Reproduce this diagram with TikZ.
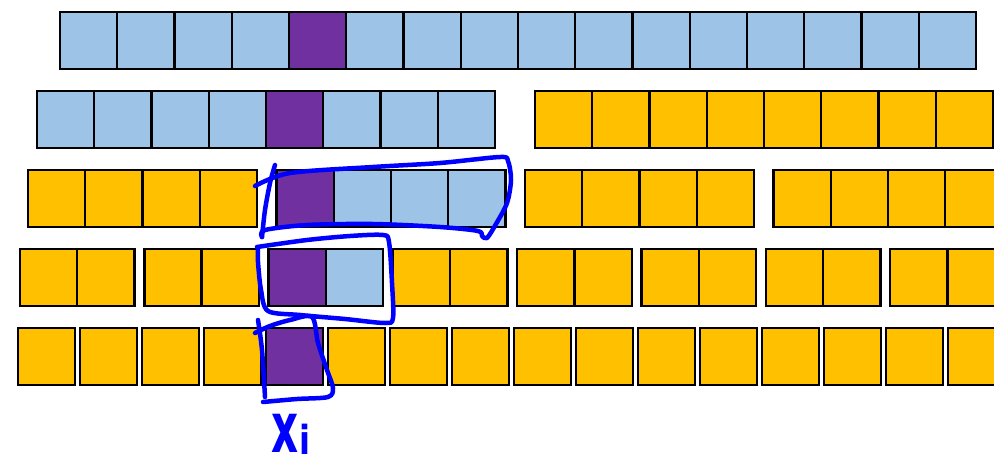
\documentclass[tikz,border=0pt]{standalone}
\usepackage{fontspec}
\usepackage{graphicx}
\newfontfamily\handfont{DejaVu Sans}
\definecolor{lblue}{HTML}{9DC3E6}
\definecolor{purp}{HTML}{7030A0}
\definecolor{gold}{HTML}{FFC000}
\definecolor{pen}{RGB}{0,0,255}
\tikzset{
  cell/.style={draw=black, line width=2.4pt, minimum width=57.25pt, minimum height=57pt, inner sep=0pt, outer sep=0pt},
  hand/.style={draw=pen, line width=4.5pt, line cap=round, line join=round}
}
\begin{document}
\begin{tikzpicture}[x=1pt,y=-1pt]
\useasboundingbox (0,0) rectangle (994,464);
% row 1
\foreach \i in {0,...,15}{
  \ifnum\i=4 \def\fc{purp}\else\def\fc{lblue}\fi
  \node[cell,fill=\fc] (ra\i) at ({60+57.25*\i+28.625},40.5) {};
}
% row 2
\foreach \i in {0,...,7}{
  \ifnum\i=4 \def\fc{purp}\else\def\fc{lblue}\fi
  \node[cell,fill=\fc] (rbA\i) at ({37+57.25*\i+28.625},119.5) {};
  \node[cell,fill=gold] (rbB\i) at ({535+57.25*\i+28.625},119.5) {};
}
% row 3
\foreach \g in {0,...,3}{
  \foreach \i in {0,...,3}{
    \def\fc{gold}
    \ifnum\g=1 \ifnum\i=0 \def\fc{purp}\else\def\fc{lblue}\fi\fi
    \node[cell,fill=\fc] (rc\g\i) at ({28+248.5*\g+57.25*\i+28.625},198.5) {};
  }
}
% row 4
\foreach \g in {0,...,7}{
  \foreach \i in {0,1}{
    \def\fc{gold}
    \ifnum\g=2 \ifnum\i=0 \def\fc{purp}\else\def\fc{lblue}\fi\fi
    \node[cell,fill=\fc] (rd\g\i) at ({20+124.3*\g+57.25*\i+28.625},277.5) {};
  }
}
% row 5
\foreach \i in {0,...,15}{
  \ifnum\i=4 \def\fc{purp}\else\def\fc{gold}\fi
  \node[cell,fill=\fc] (re\i) at ({18+62*\i+28.625},356.5) {};
}
% hand-drawn outlines
\draw[hand] plot[smooth,tension=0.5] coordinates {(255,186) (290,173) (373,167) (440,163) (500,157) (508,161) (511,180) (507,203) (496,224) (487,238) (482,236) (478,231) (440,227) (373,224) (307,225) (265,230) (262,237)};
\draw[hand] plot[smooth,tension=0.5] coordinates {(275,165) (270,183) (265,210) (262,237)};
\draw[hand] plot[smooth,tension=0.5] coordinates {(257,247) (307,240) (350,236) (383,235) (389,242) (392,283) (393,318) (385,323) (345,319) (300,315) (268,311) (261,290) (258,262) (258,250)};
\draw[hand] plot[smooth,tension=0.5] coordinates {(255,333) (270,326) (290,320) (312,317) (318,343) (327,370) (333,388) (328,397) (297,399) (263,402)};
\draw[hand] plot[smooth,tension=0.5] coordinates {(258,320) (262,350) (265,397)};
% label
\node[text=pen, inner sep=0pt, anchor=base west] (lbl) at (271,452) {\handfont\bfseries\fontsize{70}{70}\selectfont\scalebox{0.6}[1]{x}\kern1pt\raisebox{-2pt}{\fontsize{40}{40}\selectfont\scalebox{0.8}[1]{i}}};
\end{tikzpicture}
\end{document}
